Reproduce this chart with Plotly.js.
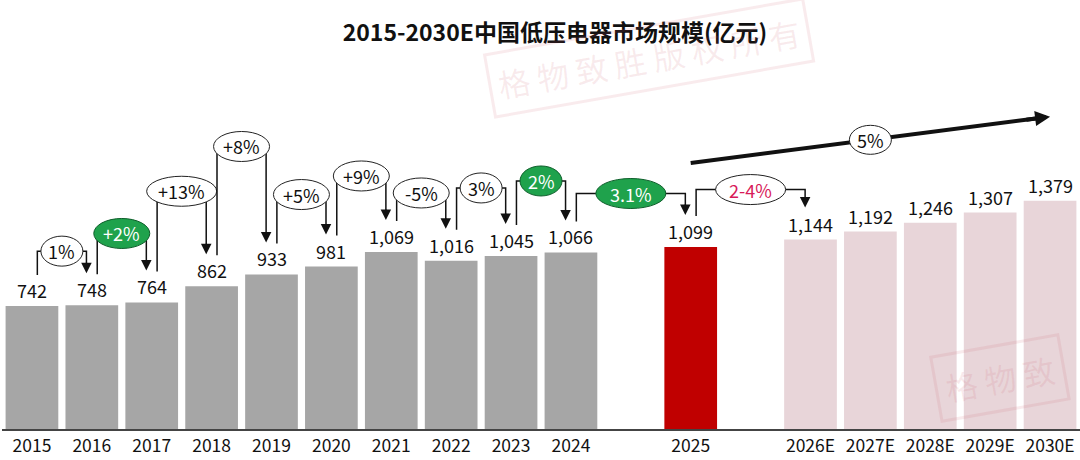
<!DOCTYPE html>
<html><head><meta charset="utf-8">
<script src="https://cdn.plot.ly/plotly-3.0.1.min.js"></script>
<style>html,body{margin:0;padding:0;background:#fff}#chart{width:1080px;height:460px}</style>
</head><body><div id="chart"></div>
<script>
// ---------- data ----------
const years = ['2015','2016','2017','2018','2019','2020','2021','2022','2023','2024','2025','2026E','2027E','2028E','2029E','2030E'];
const marketSize = [742,748,764,862,933,981,1069,1016,1045,1066,1099,1144,1192,1246,1307,1379];
const growthLabels = ['1%','+2%','+13%','+8%','+5%','+9%','-5%','3%','2%','3.1%','2-4%'];
const cagrLabel = '5%';
const chartTitle = '2015-2030E中国低压电器市场规模(亿元)';

// ---------- layout / style config ----------
const W = 1080, H = 460, M = {l: 2, r: 0, t: 40, b: 31};
const yMax = 2349;
const ppu = (H - M.t - M.b) / yMax;       // pixels per data unit
const px = p => p / ppu;                  // pixel offset -> data units
const bracketLift = [54, 69, 95, 128, 72, 76, 59, 68, 71.5, 53.5, 50];
const growthKind = ['plain','green','plain','plain','plain','plain','plain','plain','green','green','forecast'];
const FONT = '"Noto Sans CJK SC","Noto Sans",sans-serif';
const INK = '#111';
const STAMP = 'rgba(205,90,105,0.12)';

const xpos = [];
let p = 0;
years.forEach(y => { if (y === '2025' || y === '2026E') p += 1; xpos.push(p); p += 1; });
const barColors = years.map(y => y.endsWith('E') ? '#e8d5d9' : (y === '2025' ? '#c00000' : '#a6a6a6'));

const shapes = [], annotations = [];

// watermarks
annotations.push({xref:'paper', yref:'paper', x:0.6, y:0.955, xanchor:'center', yanchor:'middle', text:'格 物 致 胜 版 权 所 有', showarrow:false,
  textangle:-10, font:{family:FONT, size:32, color:STAMP}, bordercolor:STAMP, borderwidth:3, borderpad:7});
annotations.push({xref:'paper', yref:'paper', x:0.926, y:0.13, xanchor:'center', yanchor:'middle', text:'格 物 致', showarrow:false,
  textangle:-10, font:{family:FONT, size:32, color:STAMP}, bordercolor:STAMP, borderwidth:3, borderpad:8});

// value labels
marketSize.forEach((v, i) => {
  annotations.push({x: xpos[i], y: v, xref:'x', yref:'y', yanchor:'bottom', yshift:1, showarrow:false,
    text: v.toLocaleString('en-US'), font:{family:FONT, size:18, color:INK}});
});

// growth brackets
growthLabels.forEach((lab, i) => {
  const xa = xpos[i] + 0.09, xb = xpos[i + 1] - 0.09;
  const va = marketSize[i], vb = marketSize[i + 1];
  const level = Math.max(va, vb) + px(bracketLift[i]);
  const ya = va + px(31), tip = vb + px(32);
  shapes.push({type:'path', xref:'x', yref:'y', layer:'above',
    path:`M${xa},${ya} L${xa},${level} L${xb},${level} L${xb},${tip + px(6)}`,
    line:{color:INK, width:1.5}});
  annotations.push({x: xb, y: tip, xref:'x', yref:'y', axref:'x', ayref:'y', ax: xb, ay: tip + px(12),
    text:'', showarrow:true, arrowhead:2, arrowsize:1.4, arrowwidth:1.5, arrowcolor:INK});
  const kind = growthKind[i];
  const w = 14 * lab.length + 14;
  const mid = (xa + xb) / 2;
  shapes.push({type:'circle', xref:'x', yref:'y', xsizemode:'pixel', ysizemode:'pixel', layer:'above',
    xanchor: mid, yanchor: level, x0: -w / 2, x1: w / 2, y0: -15, y1: 15,
    fillcolor: kind === 'green' ? '#1fa24c' : '#ffffff', line:{color: kind === 'green' ? '#0d5e2a' : '#222', width:1}});
  annotations.push({x: mid, y: level, xref:'x', yref:'y', showarrow:false, text: lab,
    font:{family:FONT, size:18, color: kind === 'green' ? '#ffffff' : (kind === 'forecast' ? '#d81b5a' : INK)}});
});

// CAGR arrow 2025 -> 2030E
const i0 = years.indexOf('2025'), i1 = years.length - 1;
const cx0 = xpos[i0], cy0 = marketSize[i0] + px(84);
const cx1 = xpos[i1], cy1 = marketSize[i1] + px(84);
const lerp = (a, b, t) => a + (b - a) * t;
shapes.push({type:'line', xref:'x', yref:'y', layer:'above', x0: cx0, y0: cy0, x1: lerp(cx0, cx1, 0.96), y1: lerp(cy0, cy1, 0.96),
  line:{color:INK, width:4}});
annotations.push({x: cx1, y: cy1, xref:'x', yref:'y', axref:'x', ayref:'y', ax: lerp(cx0, cx1, 0.93), ay: lerp(cy0, cy1, 0.93),
  text:'', showarrow:true, arrowhead:2, arrowsize:0.75, arrowwidth:4, arrowcolor:INK});
const cmx = (cx0 + cx1) / 2, cmy = (cy0 + cy1) / 2;
shapes.push({type:'circle', xref:'x', yref:'y', xsizemode:'pixel', ysizemode:'pixel', layer:'above',
  xanchor: cmx, yanchor: cmy, x0: -21, x1: 21, y0: -14.5, y1: 14.5, fillcolor:'#ffffff', line:{color:'#222', width:1}});
annotations.push({x: cmx, y: cmy, xref:'x', yref:'y', showarrow:false, text: cagrLabel, font:{family:FONT, size:18, color:INK}});

const data = [{type:'bar', x: xpos, y: marketSize, width: 0.88, marker:{color: barColors, line:{width:0}}, hoverinfo:'skip'}];

const layout = {
  width: W, height: H, margin: {l: M.l, r: M.r, t: M.t, b: M.b, pad: 0},
  paper_bgcolor:'#ffffff', plot_bgcolor:'#ffffff', showlegend:false,
  title:{text: chartTitle, font:{family:FONT, size:23, color:INK, weight:'bold'},
    xref:'container', x: 555 / 1080, xanchor:'center', yref:'container', y: 1 - 33 / 460, yanchor:'middle'},
  xaxis:{range:[-0.5, 17.5], tickmode:'array', tickvals: xpos, ticktext: years, showline:true, linecolor:'#444', linewidth:1.5,
    showgrid:false, zeroline:false, ticks:'', tickfont:{family:FONT, size:17.5, color:INK}, fixedrange:true},
  yaxis:{range:[0, yMax], visible:false, fixedrange:true},
  shapes, annotations
};
Plotly.newPlot('chart', data, layout, {displayModeBar:false, staticPlot:true});
</script>
</body></html>
